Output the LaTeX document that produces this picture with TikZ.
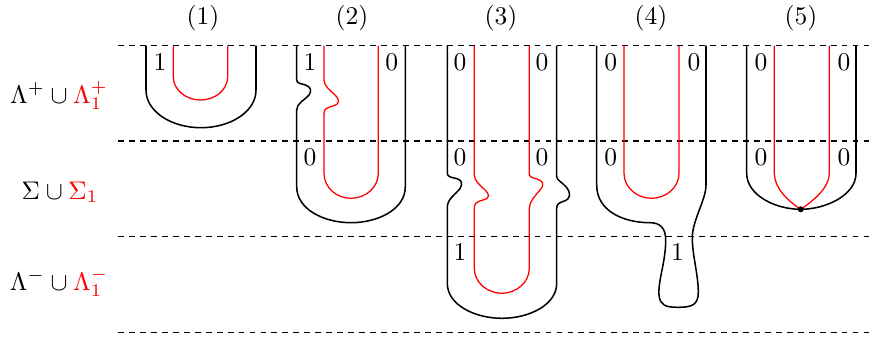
\documentclass[tikz,border=0pt]{standalone}
\usepackage{xcolor}
\begin{document}
\begin{tikzpicture}[x=0.3922pt,y=-0.3922pt,
  curve/.style={line width=0.6pt,black},
  redcurve/.style={line width=0.5pt,red},
  level/.style={line width=0.6pt,dash pattern=on 2.3pt off 2pt},
  lab/.style={inner sep=0pt,anchor=center},
  side/.style={inner sep=0pt,anchor=base}]
\useasboundingbox (0,0) rectangle (874,339);
% levels
\foreach \yy in {45.5,141,236.7,332.3} \draw[level] (118,\yy) -- (874,\yy);
% titles
\node[lab] (t1) at (203,18.5) {(1)};
\node[lab] (t2) at (352,18.5) {(2)};
\node[lab] (t3) at (501,18.5) {(3)};
\node[lab] (t4) at (651,18.5) {(4)};
\node[lab] (t5) at (801,18.5) {(5)};
% side labels
\node[side] (s1) at (59,103) {$\Lambda^+\cup{\color{red}\Lambda_1^+}$};
\node[side] (s2) at (60,199) {$\Sigma\cup{\color{red}\Sigma_1}$};
\node[side] (s3) at (59,290) {$\Lambda^-\cup{\color{red}\Lambda_1^-}$};
% (1)
\draw[curve] (146,45.5) -- (146,90) .. controls (146,112) and (172,127.7) .. (201,127.7) .. controls (230,127.7) and (256,112) .. (256,90) -- (256,45.5);
\draw[redcurve] (173.3,45.5) -- (173.3,76.7) .. controls (173.3,90) and (186,100) .. (200.5,100) .. controls (215,100) and (227.7,90) .. (227.7,76.7) -- (227.7,45.5);
\node[lab] (a1) at (160,62) {1};
% (2)
\draw[curve] (296.7,45.5) -- (296.7,80) .. controls (296.7,83.5) and (301,83.5) .. (305.5,85) .. controls (311,87) and (312,91) .. (309,95) .. controls (305,100) and (296.7,103) .. (296.7,110) -- (296.7,186.7) .. controls (296.7,210) and (325,222.7) .. (351,222.7) .. controls (377,222.7) and (405.3,210) .. (405.3,186.7) -- (405.3,45.5);
\draw[redcurve] (324,45.5) -- (324,80) .. controls (324,86) and (330,90) .. (335,95) .. controls (340,100) and (340,104) .. (333,106) .. controls (326,108) and (324,109) .. (324,114) -- (324,173.3) .. controls (324,188) and (337,198.3) .. (351,198.3) .. controls (365,198.3) and (378.3,188) .. (378.3,173.3) -- (378.3,45.5);
\node[lab] (b1) at (310,62.5) {1};
\node[lab] (b2) at (391.7,62.5) {0};
\node[lab] (b3) at (310,157.5) {0};
% (3)
\draw[curve] (447.3,45.5) -- (447.3,173.3) .. controls (447.3,177) and (452,177.5) .. (456.5,178.5) .. controls (462,180) and (463,184) .. (460,188.5) .. controls (456,194) and (447.3,199) .. (447.3,207) -- (447.3,283.3) .. controls (447.3,305) and (475,318.3) .. (502,318.3) .. controls (529,318.3) and (556.7,305) .. (556.7,283.3) -- (556.7,208.3) .. controls (556.7,204) and (559,203) .. (563,201.5) .. controls (571,199) and (571,194) .. (567,188) .. controls (562,182) and (556.7,180) .. (556.7,176.7) -- (556.7,45.5);
\draw[redcurve] (474.3,45.5) -- (474.3,175) .. controls (474.3,181) and (480,185) .. (485,190) .. controls (490,195) and (490,198) .. (483,200) .. controls (476,202) and (474.3,203.5) .. (474.3,208.3) -- (474.3,268.3) .. controls (474.3,283) and (488,293.3) .. (501.8,293.3) .. controls (515.6,293.3) and (529.3,283) .. (529.3,268.3) -- (529.3,208.3) .. controls (529.3,201) and (536,195) .. (540,190) .. controls (545,184) and (543,181) .. (537,179) .. controls (532,177.5) and (529.3,177) .. (529.3,175) -- (529.3,45.5);
\node[lab] (c1) at (460,62.5) {0};
\node[lab] (c2) at (542,62.5) {0};
\node[lab] (c3) at (460,157.5) {0};
\node[lab] (c4) at (542,157.5) {0};
\node[lab] (c5) at (460,252) {1};
% (4)
\draw[curve] (596.7,45.5) -- (596.7,185) .. controls (596.7,212) and (625,222.7) .. (650,222.7) .. controls (660,222.7) and (665.7,228) .. (665.7,240) .. controls (665.7,262) and (658,280) .. (659,295) .. controls (660,305) and (665,307.3) .. (678,307.3) .. controls (692,307.3) and (698.3,305) .. (698.3,292) .. controls (698.3,275) and (692.3,255) .. (692.3,238) .. controls (692.3,220) and (706,200) .. (706,185) -- (706,45.5);
\draw[redcurve] (624,45.5) -- (624,173.3) .. controls (624,188) and (637.5,198.3) .. (651.5,198.3) .. controls (665.5,198.3) and (679,188) .. (679,173.3) -- (679,45.5);
\node[lab] (d1) at (610.7,62.5) {0};
\node[lab] (d2) at (694,62.5) {0};
\node[lab] (d3) at (610.7,157.5) {0};
\node[lab] (d4) at (677.5,252) {1};
% (5)
\draw[curve] (746.7,45.5) -- (746.7,173.3) .. controls (746.7,195) and (775,209.3) .. (800.7,209.3) .. controls (826,209.3) and (856,195) .. (856,173.3) -- (856,45.5);
\draw[redcurve] (774.3,45.5) -- (774.3,173.3) .. controls (774.3,188) and (788,201) .. (800.7,209.3) .. controls (813,201) and (829.3,188) .. (829.3,173.3) -- (829.3,45.5);
\fill (800.7,209.3) circle[radius=3];
\node[lab] (e1) at (761,62.5) {0};
\node[lab] (e2) at (844,62.5) {0};
\node[lab] (e3) at (761,157.5) {0};
\node[lab] (e4) at (844,157.5) {0};
\end{tikzpicture}
\end{document}
